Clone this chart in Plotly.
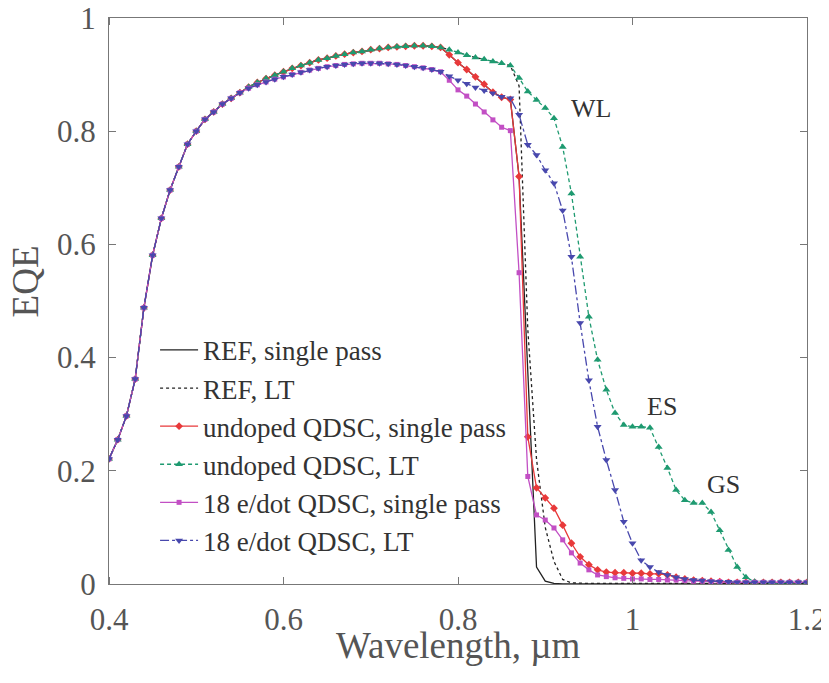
import plotly.graph_objects as go

# Wavelength grid (µm)
wavelength = [0.40, 0.41, 0.42, 0.43, 0.44, 0.45, 0.46, 0.47, 0.48, 0.49,
              0.50, 0.51, 0.52, 0.53, 0.54, 0.55, 0.56, 0.57, 0.58, 0.59,
              0.60, 0.61, 0.62, 0.63, 0.64, 0.65, 0.66, 0.67, 0.68, 0.69,
              0.70, 0.71, 0.72, 0.73, 0.74, 0.75, 0.76, 0.77, 0.78, 0.79,
              0.80, 0.81, 0.82, 0.83, 0.84, 0.85, 0.86, 0.87, 0.88, 0.89,
              0.90, 0.91, 0.92, 0.93, 0.94, 0.95, 0.96, 0.97, 0.98, 0.99,
              1.00, 1.01, 1.02, 1.03, 1.04, 1.05, 1.06, 1.07, 1.08, 1.09,
              1.10, 1.11, 1.12, 1.13, 1.14, 1.15, 1.16, 1.17, 1.18, 1.19, 1.20]

# 0.40 - 0.55, shared by all curves
eqe_common = [0.221, 0.255, 0.297, 0.362, 0.488, 0.581, 0.646, 0.696, 0.737, 0.777,
              0.800, 0.821, 0.834, 0.848, 0.858, 0.868]
# 0.56 - 0.78, REF / undoped
eqe_undoped_mid = [0.878, 0.886, 0.893, 0.899, 0.905, 0.911, 0.916, 0.921, 0.926, 0.929,
                   0.933, 0.936, 0.939, 0.941, 0.944, 0.946, 0.948, 0.949, 0.950, 0.951,
                   0.951, 0.950, 0.948]
# 0.56 - 0.78, 18 e/dot
eqe_doped_mid = [0.876, 0.882, 0.887, 0.892, 0.896, 0.900, 0.904, 0.908, 0.911, 0.914,
                 0.916, 0.918, 0.919, 0.920, 0.920, 0.920, 0.919, 0.918, 0.916, 0.914,
                 0.912, 0.909, 0.905]

# 0.79 - 1.20 tails
tail_ref_sp = [0.935, 0.921, 0.909, 0.896, 0.883, 0.869, 0.860, 0.856,
               0.720, 0.380, 0.030, 0.005, 0.001, 0.000, 0.000, 0.000, 0.000, 0.000,
               0.000, 0.000, 0.000, 0.000,
               0.000, 0.000, 0.000, 0.000, 0.000, 0.000, 0.000, 0.000, 0.000, 0.000,
               0.000, 0.000, 0.000, 0.000, 0.000, 0.000, 0.000, 0.000, 0.000, 0.000]
tail_ref_lt = [0.944, 0.939, 0.934, 0.930, 0.927, 0.923, 0.920, 0.916,
               0.880, 0.450, 0.220, 0.100, 0.040, 0.008, 0.002, 0.001, 0.001, 0.001,
               0.001, 0.001, 0.001, 0.001,
               0.001, 0.001, 0.001, 0.001, 0.001, 0.001, 0.001, 0.001, 0.001, 0.001,
               0.001, 0.001, 0.001, 0.001, 0.001, 0.001, 0.001, 0.001, 0.001, 0.001]
tail_undoped_sp = [0.935, 0.921, 0.909, 0.896, 0.883, 0.869, 0.860, 0.856,
                   0.720, 0.260, 0.170, 0.152, 0.134, 0.104, 0.072, 0.048, 0.034, 0.025,
                   0.021, 0.020, 0.020, 0.019,
                   0.019, 0.018, 0.018, 0.016, 0.012, 0.009, 0.007, 0.006, 0.005, 0.004,
                   0.003, 0.003, 0.003, 0.003, 0.003, 0.003, 0.003, 0.003, 0.003, 0.003]
tail_undoped_lt = [0.944, 0.939, 0.934, 0.930, 0.927, 0.923, 0.920, 0.916,
                   0.894, 0.870, 0.855, 0.841, 0.823, 0.772, 0.690, 0.578, 0.472, 0.396,
                   0.343, 0.302, 0.281, 0.278,
                   0.278, 0.276, 0.242, 0.205, 0.166, 0.148, 0.143, 0.143, 0.127, 0.095,
                   0.060, 0.030, 0.012, 0.004, 0.002, 0.002, 0.002, 0.002, 0.002, 0.002]
tail_doped_sp = [0.890, 0.873, 0.862, 0.848, 0.834, 0.820, 0.807, 0.801,
                 0.550, 0.190, 0.122, 0.113, 0.099, 0.078, 0.055, 0.037, 0.025, 0.016,
                 0.013, 0.011, 0.010, 0.009,
                 0.009, 0.008, 0.008, 0.007, 0.007, 0.006, 0.005, 0.005, 0.004, 0.004,
                 0.003, 0.003, 0.003, 0.003, 0.003, 0.003, 0.003, 0.003, 0.003, 0.003]
tail_doped_lt = [0.897, 0.890, 0.884, 0.877, 0.872, 0.867, 0.861, 0.858,
                 0.829, 0.776, 0.758, 0.731, 0.708, 0.660, 0.578, 0.461, 0.360, 0.278,
                 0.219, 0.166, 0.110, 0.072,
                 0.042, 0.030, 0.021, 0.016, 0.012, 0.009, 0.007, 0.006, 0.005, 0.004,
                 0.004, 0.003, 0.003, 0.003, 0.003, 0.003, 0.003, 0.003, 0.003, 0.003]

series_names = ["REF, single pass", "REF, LT", "undoped QDSC, single pass",
                "undoped QDSC, LT", "18 e/dot QDSC, single pass", "18 e/dot QDSC, LT"]

eqe_ref_sp = eqe_common + eqe_undoped_mid + tail_ref_sp
eqe_ref_lt = eqe_common + eqe_undoped_mid + tail_ref_lt
eqe_undoped_sp = eqe_common + eqe_undoped_mid + tail_undoped_sp
eqe_undoped_lt = eqe_common + eqe_undoped_mid + tail_undoped_lt
eqe_doped_sp = eqe_common + eqe_doped_mid + tail_doped_sp
eqe_doped_lt = eqe_common + eqe_doped_mid + tail_doped_lt

labels_x = ["0.4", "0.6", "0.8", "1", "1.2"]
ticks_x = [0.4, 0.6, 0.8, 1.0, 1.2]
labels_y = ["0", "0.2", "0.4", "0.6", "0.8", "1"]
ticks_y = [0, 0.2, 0.4, 0.6, 0.8, 1.0]

x_title = "Wavelength, µm"
y_title = "EQE"
notes = [("WL", 0.952, 0.84), ("ES", 1.034, 0.313), ("GS", 1.104, 0.175)]

FONT = "Liberation Serif"
AXIS_GRAY = "#777777"

styles = [
    dict(color="#222222", dash="solid", marker=None, width=1.3),
    dict(color="#222222", dash="3px,3px", marker=None, width=1.3),
    dict(color="#e8393a", dash="solid", marker="diamond", width=1.3, ms=6),
    dict(color="#1e9a70", dash="4px,3px", marker="triangle-up", width=1.3, ms=7),
    dict(color="#c24fc4", dash="solid", marker="square", width=1.3, ms=5),
    dict(color="#4848ad", dash="dashdot", marker="triangle-down", width=1.3, ms=7),
]
ydata = [eqe_ref_sp, eqe_ref_lt, eqe_undoped_sp, eqe_undoped_lt, eqe_doped_sp, eqe_doped_lt]

fig = go.Figure()
for i, (name, y, st) in enumerate(zip(series_names, ydata, styles)):
    if st["marker"] is None:
        fig.add_trace(go.Scatter(x=wavelength, y=y, name=name, mode="lines",
                                 legendgroup=f"g{i}",
                                 line=dict(color=st["color"], dash=st["dash"], width=st["width"])))
    else:
        fig.add_trace(go.Scatter(x=wavelength, y=y, name=name, mode="lines+markers",
                                 legendgroup=f"g{i}",
                                 line=dict(color=st["color"], dash=st["dash"], width=st["width"]),
                                 marker=dict(symbol=st["marker"], size=st["ms"], color=st["color"])))

for text, xv, yv in notes:
    fig.add_annotation(x=xv, y=yv, text=text, showarrow=False,
                       font=dict(family=FONT, size=26, color="#333333"))

# axis titles placed as paper annotations
fig.add_annotation(x=0.5, y=-0.108, xref="paper", yref="paper", text=x_title,
                   showarrow=False, xanchor="center", yanchor="middle",
                   font=dict(family=FONT, size=37, color="#555555"))
fig.add_annotation(x=-0.12, y=0.535, xref="paper", yref="paper", text=y_title,
                   showarrow=False, xanchor="center", yanchor="middle", textangle=-90,
                   font=dict(family=FONT, size=37, color="#555555"))

# x axis: invisible outside major ticks push labels down; visible inside ticks via minor
xaxis = dict(range=[0.4, 1.2], tickvals=ticks_x, ticktext=labels_x,
             showline=True, linecolor=AXIS_GRAY, linewidth=1.3, mirror="ticks",
             ticks="outside", ticklen=8, tickcolor="rgba(0,0,0,0)",
             minor=dict(tickvals=ticks_x, ticks="inside", ticklen=7, tickcolor=AXIS_GRAY,
                        showgrid=False),
             showgrid=False, zeroline=False, automargin=False, ticklabeloverflow="allow",
             tickfont=dict(family=FONT, size=31, color="#555555"))
yaxis = dict(range=[0, 1], tickvals=ticks_y, ticktext=labels_y,
             showline=True, linecolor=AXIS_GRAY, linewidth=1.3, mirror="ticks",
             ticks="inside", ticklen=7, tickcolor=AXIS_GRAY,
             showgrid=False, zeroline=False, automargin=False, ticklabeloverflow="allow",
             ticklabelstandoff=6,
             tickfont=dict(family=FONT, size=31, color="#555555"))

# the page body adds an 8px offset; figure is sized so the plot area lands at
# x 109..807, y 18..584 of the 829x683 window
fig.update_layout(
    width=821, height=675,
    margin=dict(l=101, r=22, t=10, b=99),
    paper_bgcolor="white", plot_bgcolor="white",
    showlegend=True,
    legend=dict(x=0.066, y=0.456, xanchor="left", yanchor="top",
                font=dict(family=FONT, size=27, color="#333333"),
                bgcolor="rgba(0,0,0,0)", tracegroupgap=0, traceorder="grouped",
                itemwidth=38),
    xaxis=xaxis,
    yaxis=yaxis,
)

fig.write_html("out.html")
